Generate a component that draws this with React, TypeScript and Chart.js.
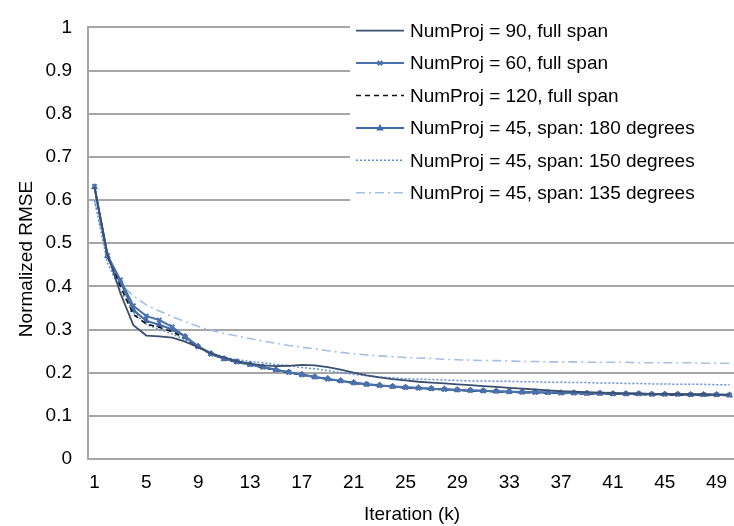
import React, { useEffect, useRef } from 'react';
import { Chart, registerables } from 'chart.js';

Chart.register(...registerables);

const iterations = [1,2,3,4,5,6,7,8,9,10,11,12,13,14,15,16,17,18,19,20,21,22,23,24,25,26,27,28,29,30,31,32,33,34,35,36,37,38,39,40,41,42,43,44,45,46,47,48,49,50];
const xTickValues = [1,5,9,13,17,21,25,29,33,37,41,45,49];

const proj90 = [0.63,0.475,0.384,0.31,0.286,0.284,0.281,0.272,0.259,0.245,0.235,0.227,0.221,0.217,0.215,0.216,0.218,0.217,0.213,0.207,0.200,0.194,0.189,0.185,0.182,0.179,0.177,0.175,0.173,0.171,0.169,0.167,0.165,0.163,0.161,0.159,0.157,0.156,0.155,0.154,0.153,0.152,0.152,0.151,0.151,0.150,0.150,0.150,0.149,0.149];
const proj60 = [0.632,0.472,0.415,0.355,0.331,0.322,0.306,0.283,0.260,0.243,0.232,0.225,0.219,0.213,0.206,0.201,0.195,0.190,0.185,0.181,0.176,0.173,0.170,0.168,0.166,0.164,0.163,0.161,0.160,0.159,0.158,0.157,0.156,0.155,0.154,0.154,0.153,0.153,0.152,0.152,0.151,0.151,0.151,0.150,0.150,0.150,0.149,0.149,0.149,0.148];
const proj120 = [0.63,0.47,0.40,0.335,0.313,0.305,0.295,0.28,0.259,0.243,0.231,0.224,0.218,0.212,0.206,0.200,0.195,0.190,0.185,0.180,0.176,0.172,0.170,0.167,0.165,0.164,0.162,0.161,0.159,0.158,0.157,0.156,0.155,0.154,0.153,0.153,0.152,0.152,0.151,0.151,0.150,0.150,0.149,0.149,0.149,0.148,0.148,0.147,0.147,0.147];
const proj45span180 = [0.63,0.47,0.41,0.345,0.32,0.311,0.300,0.284,0.261,0.244,0.232,0.225,0.219,0.213,0.207,0.201,0.196,0.190,0.186,0.181,0.177,0.173,0.171,0.168,0.166,0.165,0.163,0.162,0.160,0.159,0.158,0.157,0.156,0.155,0.155,0.154,0.153,0.153,0.152,0.152,0.151,0.151,0.151,0.150,0.150,0.150,0.149,0.149,0.149,0.148];
const proj45span150 = [0.60,0.455,0.39,0.34,0.312,0.300,0.290,0.276,0.261,0.246,0.236,0.230,0.226,0.223,0.219,0.216,0.212,0.209,0.205,0.200,0.196,0.193,0.190,0.188,0.186,0.185,0.184,0.183,0.182,0.181,0.181,0.180,0.180,0.179,0.179,0.178,0.178,0.177,0.177,0.176,0.176,0.175,0.175,0.174,0.174,0.173,0.173,0.173,0.172,0.172];
const proj45span135 = [0.60,0.465,0.405,0.378,0.357,0.343,0.330,0.318,0.307,0.298,0.291,0.285,0.279,0.273,0.268,0.263,0.259,0.255,0.251,0.247,0.244,0.241,0.239,0.237,0.235,0.234,0.233,0.231,0.230,0.229,0.228,0.228,0.227,0.226,0.226,0.225,0.225,0.225,0.224,0.224,0.224,0.224,0.223,0.223,0.223,0.223,0.223,0.222,0.222,0.222];

const seriesLabels = [
  'NumProj = 90, full span',
  'NumProj = 60, full span',
  'NumProj = 120, full span',
  'NumProj = 45, span: 180 degrees',
  'NumProj = 45, span: 150 degrees',
  'NumProj = 45, span: 135 degrees',
];

const xTitle = 'Iteration (k)';
const yTitle = 'Normalized RMSE';

const FONT = '"Liberation Sans", Arial, sans-serif';
const GRID = '#a6a6a6';

const toPoints = (arr: number[]) => iterations.map((x, i) => ({ x, y: arr[i] }));

function drawMarker(ctx: CanvasRenderingContext2D, style: string, x: number, y: number, r: number, color: string) {
  ctx.save();
  ctx.fillStyle = color;
  ctx.strokeStyle = color;
  if (style === 'triangle') {
    ctx.beginPath();
    ctx.moveTo(x, y - r * 1.2);
    ctx.lineTo(x + r * 1.1, y + r * 0.8);
    ctx.lineTo(x - r * 1.1, y + r * 0.8);
    ctx.closePath();
    ctx.fill();
  } else if (style === 'crossRot') {
    ctx.lineWidth = 2;
    ctx.beginPath();
    ctx.moveTo(x - r * 0.75, y - r * 0.75);
    ctx.lineTo(x + r * 0.75, y + r * 0.75);
    ctx.moveTo(x + r * 0.75, y - r * 0.75);
    ctx.lineTo(x - r * 0.75, y + r * 0.75);
    ctx.stroke();
  }
  ctx.restore();
}

const overlayPlugin = {
  id: 'overlay',
  afterDraw(chart: any) {
    const ctx: CanvasRenderingContext2D = chart.ctx;
    // y axis title (centered on the whole chart height)
    ctx.save();
    ctx.font = `19px ${FONT}`;
    ctx.fillStyle = '#000';
    ctx.translate(27, chart.height / 2 - 4);
    ctx.rotate(-Math.PI / 2);
    ctx.textAlign = 'center';
    ctx.textBaseline = 'middle';
    ctx.fillText(yTitle, 0, 0);
    ctx.restore();

    // legend box inside plot area
    ctx.save();
    ctx.fillStyle = '#fff';
    ctx.fillRect(350, 8, 400, 208);
    const rowY0 = 30.7;
    const rowStep = 32.4;
    chart.data.datasets.forEach((ds: any, i: number) => {
      const y = rowY0 + i * rowStep;
      ctx.save();
      ctx.strokeStyle = ds.borderColor;
      ctx.lineWidth = ds.borderWidth;
      ctx.setLineDash(ds.borderDash || []);
      ctx.beginPath();
      ctx.moveTo(356, y);
      ctx.lineTo(404, y);
      ctx.stroke();
      ctx.restore();
      if (ds.pointRadius > 0) {
        drawMarker(ctx, ds.pointStyle, 380, y, ds.pointRadius, ds.borderColor);
      }
      ctx.font = `19px ${FONT}`;
      ctx.fillStyle = '#000';
      ctx.textAlign = 'left';
      ctx.textBaseline = 'middle';
      ctx.fillText(ds.label, 410, y + 1);
    });
    ctx.restore();
  },
};

export default function App() {
  const ref = useRef<HTMLCanvasElement | null>(null);

  useEffect(() => {
    if (!ref.current) return;
    const chart = new Chart(ref.current, {
      type: 'line',
      data: {
        datasets: [
          {
            label: seriesLabels[0], data: toPoints(proj90),
            borderColor: '#3b4f70', backgroundColor: '#3b4f70', borderWidth: 1.8,
            pointRadius: 0, tension: 0,
          },
          {
            label: seriesLabels[1], data: toPoints(proj60),
            borderColor: '#4a72ad', backgroundColor: '#4a72ad', borderWidth: 2,
            pointRadius: 3, pointStyle: 'crossRot', pointBorderWidth: 2, tension: 0,
          },
          {
            label: seriesLabels[2], data: toPoints(proj120),
            borderColor: '#111111', backgroundColor: '#111111', borderWidth: 1.6,
            borderDash: [5, 4], pointRadius: 0, tension: 0,
          },
          {
            label: seriesLabels[3], data: toPoints(proj45span180),
            borderColor: '#3f6ca9', backgroundColor: '#3f6ca9', borderWidth: 2,
            pointRadius: 3.3, pointStyle: 'triangle', pointBorderWidth: 1, tension: 0,
          },
          {
            label: seriesLabels[4], data: toPoints(proj45span150),
            borderColor: '#5b8fd8', backgroundColor: '#5b8fd8', borderWidth: 1.5,
            borderDash: [2, 2], pointRadius: 0, tension: 0,
          },
          {
            label: seriesLabels[5], data: toPoints(proj45span135),
            borderColor: '#a3bfe4', backgroundColor: '#a3bfe4', borderWidth: 1.6,
            borderDash: [9, 4, 2, 4], pointRadius: 0, tension: 0,
          },
        ],
      },
      options: {
        responsive: false,
        animation: false,
        events: [],
        layout: { padding: { top: 19, right: 0, bottom: 0, left: 0 } },
        plugins: {
          legend: { display: false },
          tooltip: { enabled: false },
        },
        scales: {
          x: {
            type: 'linear',
            min: 0.5,
            max: 50.5,
            grid: { display: false, drawTicks: false },
            border: { display: true, color: GRID, width: 2 },
            afterBuildTicks: (scale: any) => {
              scale.ticks = xTickValues.map((v) => ({ value: v }));
            },
            afterFit: (scale: any) => { scale.height = 67; },
            ticks: {
              autoSkip: false,
              maxRotation: 0,
              padding: 12,
              color: '#000',
              font: { family: FONT, size: 19 },
              callback: (v: any) => String(v),
            },
            title: {
              display: true,
              text: xTitle,
              color: '#000',
              font: { family: FONT, size: 19 },
              padding: { top: 0, bottom: 0 },
            },
          },
          y: {
            min: 0,
            max: 1,
            grid: { color: GRID, lineWidth: 2, drawTicks: false },
            border: { display: true, color: GRID, width: 2 },
            afterFit: (scale: any) => { scale.width = 88; },
            ticks: {
              stepSize: 0.1,
              padding: 16,
              color: '#000',
              font: { family: FONT, size: 19 },
              callback: (v: any) => String(Math.round(Number(v) * 10) / 10),
            },
          },
        },
      },
      plugins: [overlayPlugin],
    } as any);
    return () => chart.destroy();
  }, []);

  return (
    <div style={{ position: 'absolute', left: 0, top: 0, width: 734, height: 526, overflow: 'hidden', background: '#fff' }}>
      <canvas ref={ref} width={742} height={526} style={{ display: 'block', width: 742, height: 526 }} />
    </div>
  );
}
